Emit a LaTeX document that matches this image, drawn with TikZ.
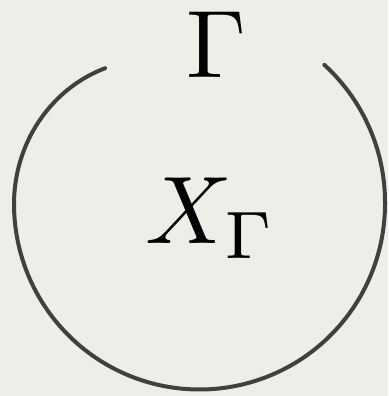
\documentclass[tikz,border=0pt]{standalone}
\usepackage{amsmath,amssymb}
\usepackage{tikz}
\usetikzlibrary{positioning}

\definecolor{paper}{RGB}{239,237,232}
\definecolor{inkgray}{RGB}{64,64,64}

\begin{document}
\begin{tikzpicture}[
    x=0.5pt, y=-0.5pt,
    declare function={rr(\t)=185.5-0.03*min(\t,0)-0.0066*max(\t-180,0)^2;},
    lbl/.style={inner sep=0pt, scale=4.8, transform shape},
    rim/.style={draw=inkgray, line width=2pt, line cap=round}
]
\fill[paper] (0,0) rectangle (388,396);
\node[lbl] (gamma) at (216,45) {$\Gamma$};
\node[lbl] (xgamma) at (211,218) {$X_{\Gamma}$};
% open boundary, gap at the top under Gamma
\draw[rim] plot[domain=-48.1:235.2, samples=180, smooth]
    ({199.5+rr(\x)*cos(\x)}, {204+rr(\x)*sin(\x)});
\end{tikzpicture}
\end{document}
